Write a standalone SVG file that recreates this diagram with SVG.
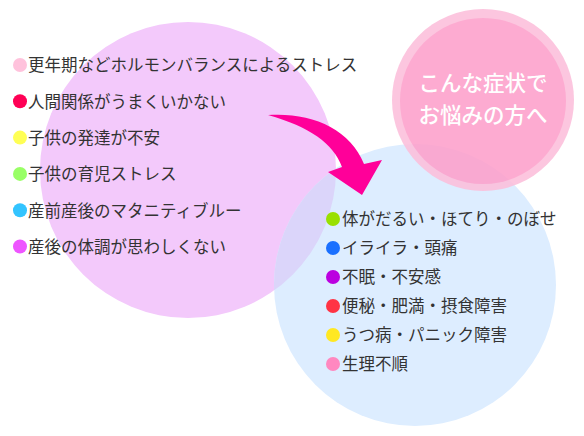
<svg xmlns="http://www.w3.org/2000/svg" width="584" height="436" viewBox="0 0 584 436">
<style>
.t{font-family:"Noto Sans CJK JP","Noto Sans CJK SC",sans-serif;font-size:16.5px;fill:#333}
.b{font-family:"Noto Sans CJK JP","Noto Sans CJK SC",sans-serif;font-size:21.5px;fill:#fff;font-weight:500;text-anchor:middle}
</style>
<defs>
<clipPath id="cp"><circle cx="188" cy="170" r="148"/></clipPath>
</defs>
<rect width="584" height="436" fill="#fff"/>
<g id="causes">
<circle cx="188" cy="170" r="148" fill="#f3c9fb"/>
</g>
<g id="symptoms">
<circle cx="415" cy="285" r="141" fill="#ddedff"/>
<circle cx="415" cy="285" r="141" fill="#dbd5fa" clip-path="url(#cp)"/>
</g>
<g id="badge" opacity="0.88">
<circle cx="483" cy="100" r="91" fill="#fcbfdb"/>
<circle cx="483" cy="101" r="83" fill="#fda0cb"/>
</g>
<g id="badge-text">
<text class="b" x="483" y="91">こんな症状で</text>
<text class="b" x="483" y="123">お悩みの方へ</text>
</g>
<g id="connectors">
<path d="M268,115 C310,112 350,128 364,164 L382,160 L362,195 L328,172 L342,167 C333,143 310,127 268,115 Z" fill="#ff0099"/>
</g>
<g id="cause-list">
<circle cx="20" cy="65" r="7" fill="#ffc2dc"/>
<text class="t" x="28" y="71.3">更年期などホルモンバランスによるストレス</text>
<circle cx="20" cy="101.3" r="7" fill="#ff0055"/>
<text class="t" x="28" y="107.6">人間関係がうまくいかない</text>
<circle cx="20" cy="137.6" r="7" fill="#ffff55"/>
<text class="t" x="28" y="143.9">子供の発達が不安</text>
<circle cx="20" cy="173.9" r="7" fill="#99ff66"/>
<text class="t" x="28" y="180.2">子供の育児ストレス</text>
<circle cx="20" cy="210.2" r="7" fill="#33c4ff"/>
<text class="t" x="28" y="216.5">産前産後のマタニティブルー</text>
<circle cx="20" cy="246.5" r="7" fill="#ee55ff"/>
<text class="t" x="28" y="252.8">産後の体調が思わしくない</text>
</g>
<g id="symptom-list">
<circle cx="333" cy="219" r="7" fill="#99e000"/>
<text class="t" x="342" y="225.3">体がだるい・ほてり・のぼせ</text>
<circle cx="333" cy="248" r="7" fill="#1a70ff"/>
<text class="t" x="342" y="254.3">イライラ・頭痛</text>
<circle cx="333" cy="277" r="7" fill="#bb00e0"/>
<text class="t" x="342" y="283.3">不眠・不安感</text>
<circle cx="333" cy="306" r="7" fill="#ff3344"/>
<text class="t" x="342" y="312.3">便秘・肥満・摂食障害</text>
<circle cx="333" cy="335" r="7" fill="#ffe822"/>
<text class="t" x="342" y="341.3">うつ病・パニック障害</text>
<circle cx="333" cy="364" r="7" fill="#ff88c0"/>
<text class="t" x="342" y="370.3">生理不順</text>
</g>
</svg>
